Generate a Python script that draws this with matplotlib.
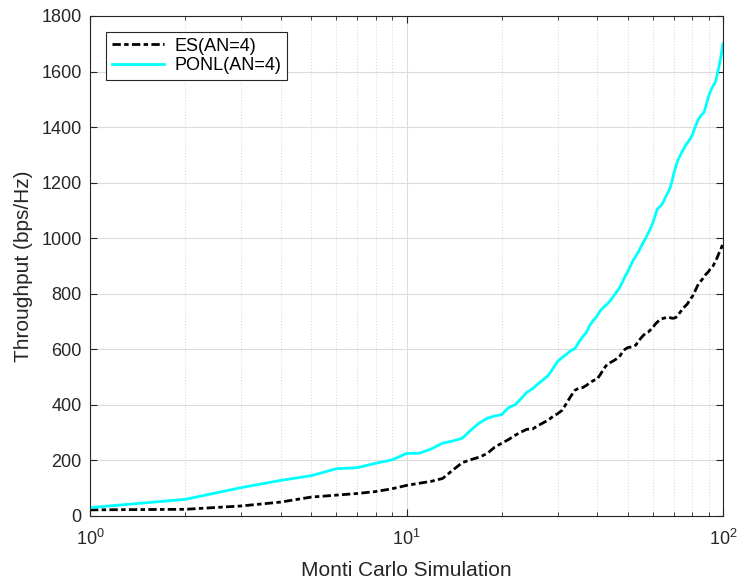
import numpy as np
import matplotlib.pyplot as plt
from matplotlib.ticker import LogLocator

plt.rcParams['font.family'] = ['Liberation Sans', 'DejaVu Sans']

# number of Monte Carlo runs
runs = list(range(1, 101))

es_an4 = [22, 24, 36, 50, 68, 75, 81, 88, 98, 110,
          118, 125, 135, 165, 192, 203, 212, 225, 248, 262,
          275, 290, 302, 312, 313, 325, 335, 345, 358, 368,
          380, 405, 430, 452, 460, 462, 470, 480, 488, 492,
          510, 530, 545, 552, 558, 565, 572, 588, 600, 606,
          608, 610, 615, 628, 640, 650, 658, 662, 670, 678,
          690, 698, 705, 710, 712, 714, 716, 714, 712, 712,
          715, 722, 732, 740, 748, 756, 762, 772, 782, 790,
          802, 815, 828, 838, 845, 852, 860, 868, 874, 880,
          888, 895, 900, 910, 920, 932, 945, 955, 968, 982]

ponl_an4 = [30, 60, 102, 128, 145, 170, 174, 190, 202, 225,
            226, 242, 262, 270, 280, 310, 335, 352, 360, 365,
            390, 400, 422, 445, 458, 475, 490, 505, 530, 556,
            570, 582, 595, 602, 625, 645, 660, 688, 705, 720,
            740, 752, 762, 775, 790, 805, 820, 840, 862, 880,
            900, 920, 935, 950, 968, 985, 1000, 1018, 1035, 1055,
            1080, 1105, 1112, 1120, 1135, 1150, 1165, 1180, 1205, 1235,
            1260, 1280, 1295, 1308, 1320, 1332, 1342, 1350, 1360, 1372,
            1390, 1405, 1420, 1432, 1440, 1447, 1452, 1470, 1490, 1510,
            1525, 1538, 1548, 1555, 1570, 1592, 1615, 1640, 1670, 1700]

fig = plt.figure(figsize=(7.42, 5.86), dpi=100)
ax = fig.add_axes([0.1213, 0.1195, 0.8531, 0.8532])

ax.plot(runs, es_an4, color='black', linestyle=(0, (3, 1.2, 1.6, 1.2)), linewidth=2, label='ES(AN=4)')
ax.plot(runs, ponl_an4, color='cyan', linestyle='-', linewidth=2, label='PONL(AN=4)')

ax.set_xscale('log')
ax.set_xlim(1, 100)
ax.set_ylim(0, 1800)
ax.set_yticks(np.arange(0, 1801, 200))
ax.xaxis.set_minor_locator(LogLocator(base=10, subs=np.arange(2, 10)))

axc = '#262626'
ax.tick_params(which='both', direction='in', top=True, right=True, colors=axc, labelsize=13)
ax.tick_params(which='major', length=5)
ax.tick_params(which='minor', length=3)
ax.tick_params(axis='y', pad=6)
ax.tick_params(axis='x', pad=9)
for s in ax.spines.values():
    s.set_color(axc)
    s.set_linewidth(0.8)

ax.grid(which='major', color='#dcdcdc', linestyle='-', linewidth=0.8)
ax.grid(which='minor', axis='x', color='#dcdcdc', linestyle=':', linewidth=0.8)
ax.set_axisbelow(True)

ax.set_xlabel('Monti Carlo Simulation', fontsize=15, color=axc, labelpad=9)
ax.set_ylabel('Throughput (bps/Hz)', fontsize=15, color=axc, labelpad=6)

leg = ax.legend(loc='upper left', fontsize=13, fancybox=False, framealpha=1,
                edgecolor=axc, borderaxespad=0.9, handlelength=2.9,
                borderpad=0.3, labelspacing=0.15, handletextpad=0.6)
leg.get_frame().set_linewidth(0.8)

fig.savefig('out.png', dpi=100)
